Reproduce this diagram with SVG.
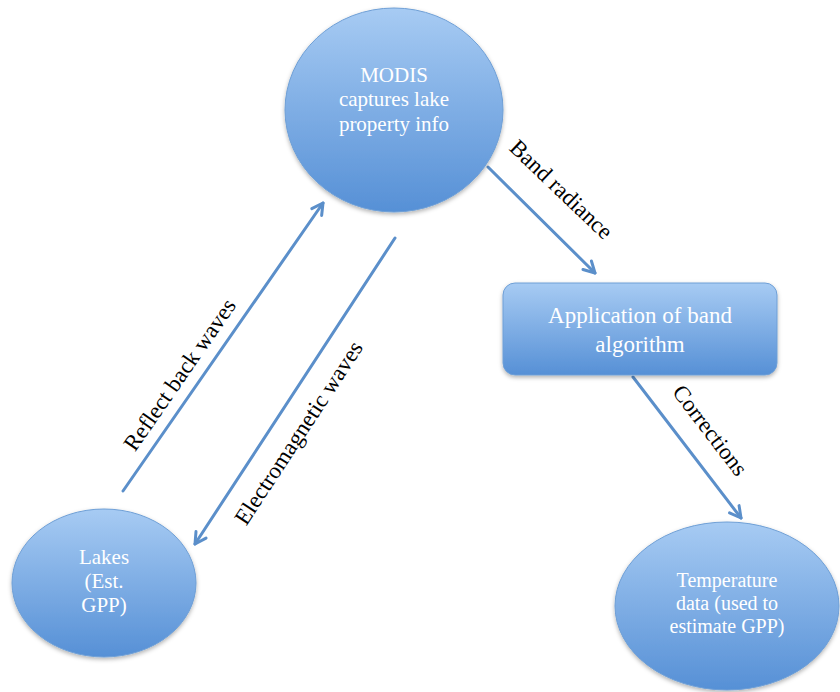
<svg xmlns="http://www.w3.org/2000/svg" width="840" height="692" viewBox="0 0 840 692">
<style>
.node{fill:url(#g);stroke:#6e9fd6;stroke-width:1;filter:url(#sh)}
.nt{font-family:"Liberation Serif","Times New Roman",serif;fill:#ffffff;text-anchor:middle}
.lbl{font-family:"Liberation Serif","Times New Roman",serif;fill:#000000;font-size:23px;text-anchor:middle}
.con{stroke:#5b8fca;stroke-width:3;fill:none;marker-end:url(#ah);stroke-linecap:round}
</style>
<defs>
<linearGradient id="g" x1="0" y1="0" x2="0" y2="1">
<stop offset="0" stop-color="#a7cbf3"/>
<stop offset="1" stop-color="#5690d6"/>
</linearGradient>
<filter id="sh" x="-20%" y="-20%" width="140%" height="140%">
<feDropShadow dx="0" dy="2" stdDeviation="2" flood-color="#000" flood-opacity="0.3"/>
</filter>
<marker id="ah" markerUnits="userSpaceOnUse" viewBox="0 0 16 16" markerWidth="16" markerHeight="16" refX="14" refY="8" orient="auto">
<path d="M3,2 L14,8 L3,14" fill="none" stroke="#5b8fca" stroke-width="3" stroke-linecap="round" stroke-linejoin="round"/>
</marker>
</defs>
<g id="connectors">
<line class="con" x1="488" y1="167" x2="595" y2="273"/>
<line class="con" x1="633" y1="377" x2="741" y2="518"/>
<line class="con" x1="123" y1="491" x2="323" y2="203"/>
<line class="con" x1="395" y1="238" x2="195" y2="544"/>
<text class="lbl" transform="translate(556,195) rotate(43.7)">Band radiance</text>
<text class="lbl" transform="translate(704,435) rotate(52.6)">Corrections</text>
<text class="lbl" transform="translate(186,379) rotate(-55.3)">Reflect back waves</text>
<text class="lbl" transform="translate(305,437) rotate(-56.7)">Electromagnetic waves</text>
</g>
<g id="modis">
<ellipse class="node" cx="394" cy="110" rx="109" ry="102"/>
<text class="nt" font-size="21" x="394" y="82">MODIS</text>
<text class="nt" font-size="21" x="394" y="106">captures lake</text>
<text class="nt" font-size="21" x="394" y="131">property info</text>
</g>
<g id="band-algorithm">
<rect class="node" x="503" y="283" width="274" height="92" rx="12"/>
<text class="nt" font-size="23" x="640" y="323">Application of band</text>
<text class="nt" font-size="23" x="640" y="352">algorithm</text>
</g>
<g id="lakes">
<ellipse class="node" cx="104" cy="583" rx="92" ry="74"/>
<text class="nt" font-size="21" x="104" y="564">Lakes</text>
<text class="nt" font-size="21" x="104" y="588">(Est.</text>
<text class="nt" font-size="21" x="104" y="612">GPP)</text>
</g>
<g id="temperature">
<ellipse class="node" cx="727" cy="606" rx="112" ry="84"/>
<text class="nt" font-size="20" x="727" y="587">Temperature</text>
<text class="nt" font-size="20" x="727" y="610">data (used to</text>
<text class="nt" font-size="20" x="727" y="633">estimate GPP)</text>
</g>
</svg>
